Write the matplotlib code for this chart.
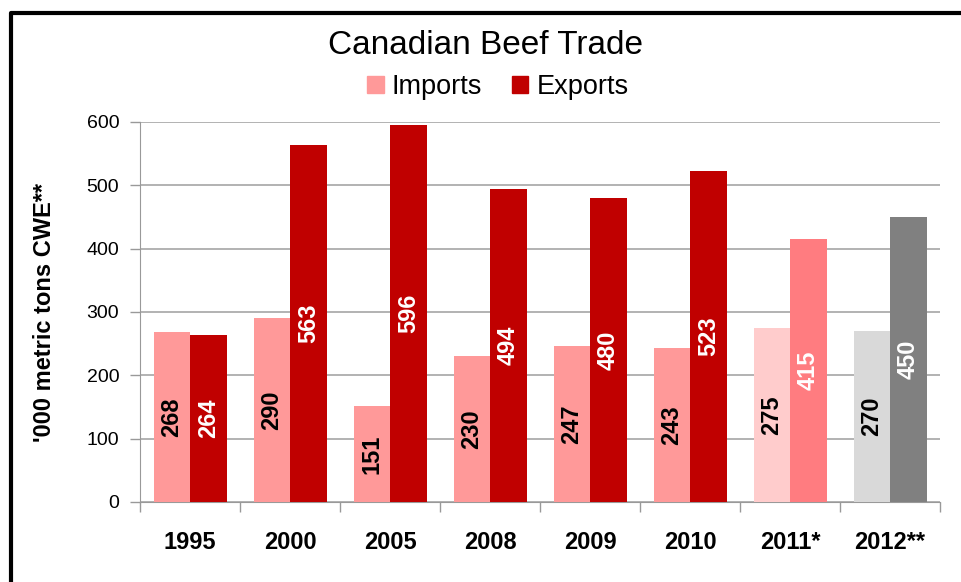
# Canadian Beef Trade - imports vs exports bar chart

import numpy as np
import matplotlib.pyplot as plt
from matplotlib.lines import Line2D
from matplotlib.patches import Patch

plt.rcParams['font.family'] = ['Liberation Sans', 'DejaVu Sans']

years = ["1995", "2000", "2005", "2008", "2009", "2010", "2011*", "2012**"]
imports = [268, 290, 151, 230, 247, 243, 275, 270]
exports = [264, 563, 596, 494, 480, 523, 415, 450]

imp_colors = ["#FF9999"] * 6 + ["#FFCCCC", "#D9D9D9"]
exp_colors = ["#C00000"] * 6 + ["#FF7C80", "#808080"]

fig = plt.figure(figsize=(9.61, 5.82), dpi=100)
ax = fig.add_axes([140 / 961, 1 - 502 / 582, 800 / 961, 380 / 582])

x = np.arange(len(years))
w = 0.365
b1 = ax.bar(x - w / 2, imports, w, color=imp_colors, zorder=3)
b2 = ax.bar(x + w / 2, exports, w, color=exp_colors, zorder=3)

# value labels in the middle of each bar
for bars, vals, tc in [(b1, imports, "black"), (b2, exports, "white")]:
    for rect, v in zip(bars, vals):
        ax.text(rect.get_x() + rect.get_width() / 2, v / 2, str(v), rotation=90,
                ha="center", va="center", fontsize=17, fontweight="bold",
                color=tc, zorder=4)

ax.set_ylim(0, 600)
ax.set_xlim(-0.5, len(years) - 0.5)
ax.set_yticks(range(0, 601, 100))
ax.tick_params(axis="y", labelsize=14, length=7, width=1, color="#999999", pad=8)
ax.set_xticks(x)
ax.set_xticklabels(years, fontsize=17, fontweight="bold")
ax.set_xticks(np.arange(-0.5, len(years), 1), minor=True)
ax.tick_params(axis="x", which="major", length=0, pad=21)
ax.tick_params(axis="x", which="minor", length=7, width=1, color="#999999")

ax.yaxis.grid(True, color="#A6A6A6", linewidth=1.2, zorder=0)
for s in ["top", "right"]:
    ax.spines[s].set_visible(False)
ax.spines["left"].set_color("#999999")
ax.spines["bottom"].set_color("#999999")

ax.set_ylabel("'000 metric tons CWE**", fontsize=17, fontweight="bold")
ax.yaxis.set_label_coords(-84 / 800, 0.5)

fig.text(486 / 961, 1 - 45 / 582, "Canadian Beef Trade", ha="center", va="center",
         fontsize=24)

handles = [Patch(color="#FF9999"), Patch(color="#C00000")]
fig.legend(handles, ["Imports", "Exports"], loc="center", ncol=2,
           bbox_to_anchor=(498 / 961, 1 - 87 / 582), frameon=False,
           fontsize=19.5, handlelength=0.6, handleheight=0.6, handletextpad=0.3,
           columnspacing=1.1)

# outer chart frame (left and top edges)
fx = 11 / 961
fy = 1 - 13 / 582
fig.add_artist(Line2D([fx, fx, 1.0], [0, fy, fy], color="black",
                      linewidth=3, transform=fig.transFigure))

plt.savefig("out.png")
